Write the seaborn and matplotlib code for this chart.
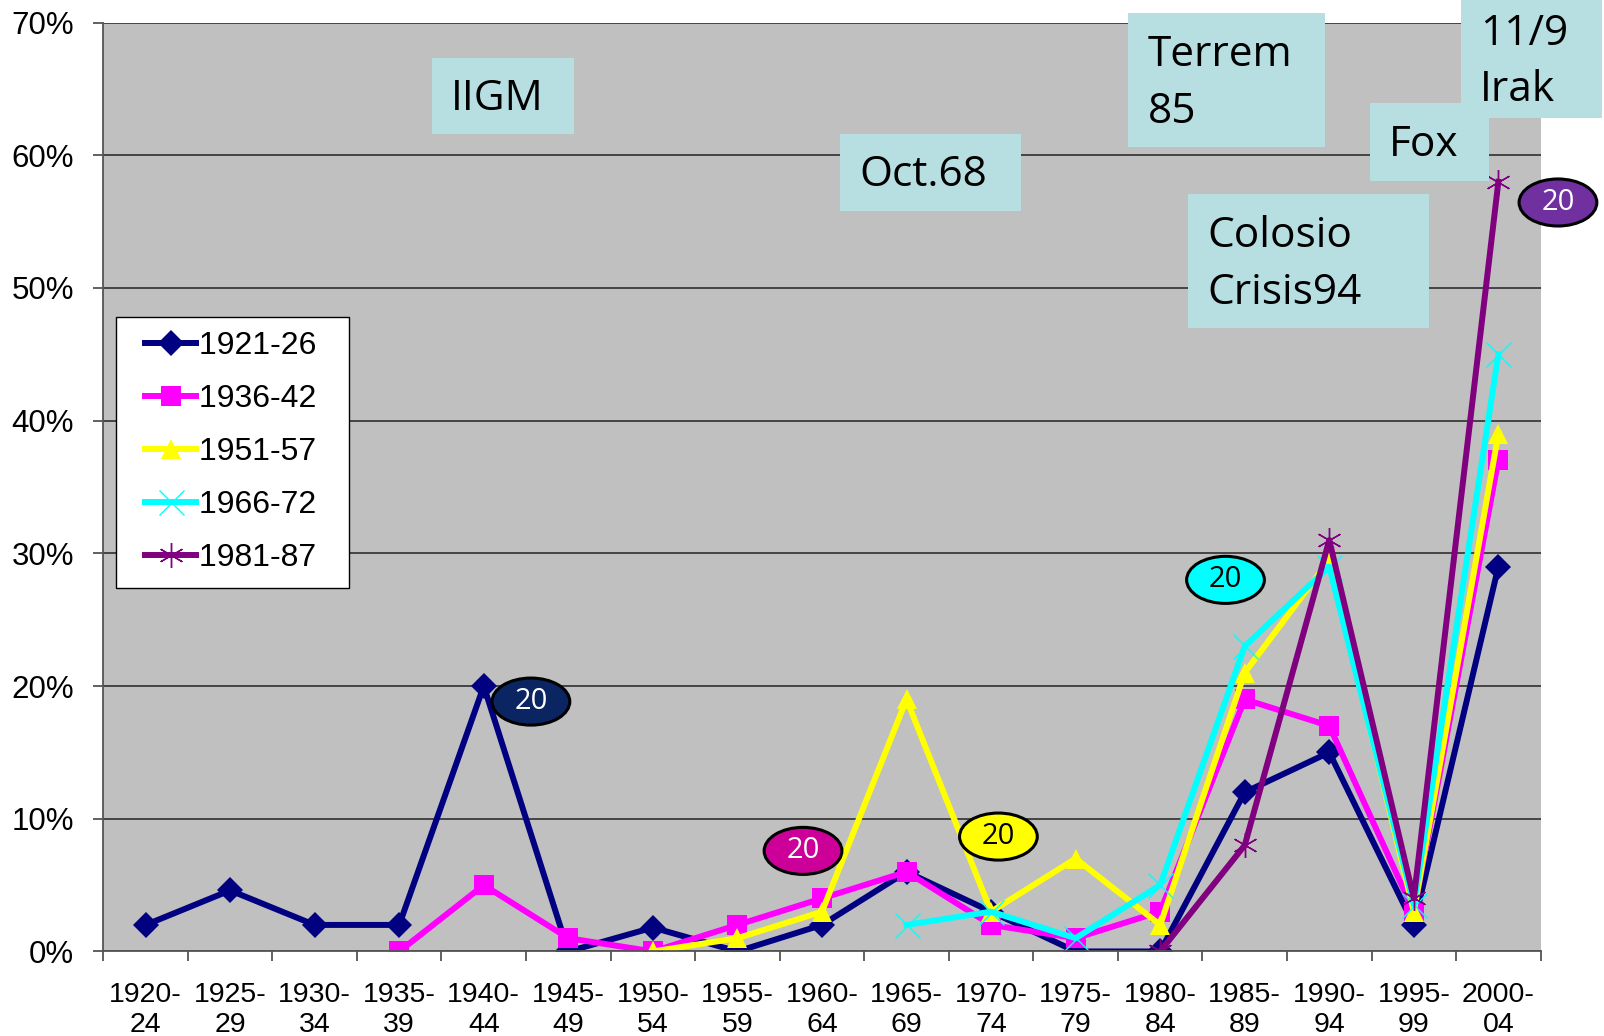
"""
Recreation of the period-share chart (five cohorts, 1920-2004)
"""
import numpy as np
import pandas as pd
import matplotlib
matplotlib.use('Agg')
import matplotlib.pyplot as plt
import seaborn as sns
from matplotlib.lines import Line2D
from matplotlib.legend_handler import HandlerLine2D
from matplotlib.patches import Rectangle, Ellipse
from matplotlib.ticker import PercentFormatter

periods = ['1920-\n24', '1925-\n29', '1930-\n34', '1935-\n39', '1940-\n44', '1945-\n49',
           '1950-\n54', '1955-\n59', '1960-\n64', '1965-\n69', '1970-\n74', '1975-\n79',
           '1980-\n84', '1985-\n89', '1990-\n94', '1995-\n99', '2000-\n04']

cohorts = ['1921-26', '1936-42', '1951-57', '1966-72', '1981-87']
starts = [0, 3, 6, 9, 12]

v_1921 = [0.020, 0.046, 0.020, 0.020, 0.200, 0.000, 0.018, 0.000, 0.020, 0.060,
          0.030, 0.000, 0.000, 0.120, 0.150, 0.020, 0.290]
v_1936 = [0.000, 0.050, 0.010, 0.000, 0.020, 0.040, 0.060, 0.020, 0.010, 0.030,
          0.190, 0.170, 0.030, 0.370]
v_1951 = [0.000, 0.010, 0.030, 0.190, 0.030, 0.070, 0.020, 0.210, 0.295, 0.030, 0.390]
v_1966 = [0.020, 0.030, 0.010, 0.050, 0.230, 0.290, 0.035, 0.450]
v_1981 = [0.000, 0.080, 0.310, 0.040, 0.580]

series = [v_1921, v_1936, v_1951, v_1966, v_1981]
colors = ['#000080', '#FF00FF', '#FFFF00', '#00FFFF', '#800080']
markers = ['D', 's', '^', 'x', (6, 2, 0)]
msizes = [13, 14, 15, 18, 18]

events = [('IIGM', (422, 57, 139, 74)),
          ('Oct.68', (821, 131, 177, 75)),
          ('Terrem\n85', (1103, 13, 192, 131)),
          ('Fox', (1339, 101, 117, 76)),
          ('11/9\nIrak', (1428, 0, 138, 115)),
          ('Colosio\nCrisis94', (1161, 190, 236, 131))]

bubbles = [((519, 686), '#0B2563', 'white'),
           ((785, 832), '#CC0099', 'white'),
           ((976, 818), '#FFFF00', 'black'),
           ((1198, 567), '#00FFFF', 'black'),
           ((1523, 198), '#7030A0', 'white')]

W, H = 1604, 1036
SX, SY = W / 1568, H / 1013


def fig_xy(x, y):
    return x * SX / W, 1 - y * SY / H


rows = []
for name, start, vals in zip(cohorts, starts, series):
    for i, v in enumerate(vals):
        rows.append({'cohort': name, 'pos': start + i, 'share': v})
df = pd.DataFrame(rows)

fig = plt.figure(figsize=(W / 100, H / 100), dpi=100)
ax = fig.add_axes([0.0644, 0.0816, 0.8961, 0.8966])
ax.set_facecolor('#C0C0C0')

for name, col, mk, ms in zip(cohorts, colors, markers, msizes):
    sub = df[df['cohort'] == name]
    thin = mk in ('x',) or isinstance(mk, tuple)
    sns.lineplot(data=sub, x='pos', y='share', ax=ax, color=col, lw=4.3,
                 marker=mk, markersize=ms, markeredgewidth=1.0 if thin else 0,
                 markeredgecolor=col, label=name + '  ')

ax.set_xlim(-0.5, len(periods) - 0.5)
ax.set_ylim(0, 0.7)
ax.set_xticks(np.arange(-0.5, len(periods), 1))
ax.set_xticklabels([])
ax.set_xticks(np.arange(len(periods)), minor=True)
ax.set_xticklabels(periods, minor=True, fontsize=20.5, family='Liberation Sans',
                   linespacing=1.18)
ax.tick_params(axis='x', which='major', length=7.2, width=1.3, color='#555555')
ax.tick_params(axis='x', which='minor', length=0, pad=22)
ax.set_yticks(np.arange(0, 0.71, 0.1))
ax.yaxis.set_major_formatter(PercentFormatter(1.0, decimals=0))
ax.tick_params(axis='y', length=7.2, width=1.3, color='#555555', labelsize=22.5, pad=14)
for lab in ax.get_yticklabels():
    lab.set_family('Liberation Sans')
ax.grid(axis='y', color='#3a3a3a', lw=1.3)
ax.set_axisbelow(True)
ax.set_xlabel('')
ax.set_ylabel('')
for s in ['top', 'right']:
    ax.spines[s].set_visible(False)
for s in ['left', 'bottom']:
    ax.spines[s].set_color('#555555')
    ax.spines[s].set_linewidth(1.3)

leg = ax.legend(loc='upper left', bbox_to_anchor=(0.009, 0.683), borderaxespad=0,
                frameon=True, fancybox=False, edgecolor='black', framealpha=1,
                prop={'family': 'Liberation Sans', 'size': 23},
                handlelength=2.05, handletextpad=0.1, labelspacing=0.72,
                borderpad=0.45, handler_map={Line2D: HandlerLine2D(xpad=0.45)})
leg.get_frame().set_linewidth(1.0)

for label, (x, y, w, h) in events:
    x0, y1 = fig_xy(x, y + h)
    x1, y0 = fig_xy(x + w, y)
    fig.patches.append(Rectangle((x0, y1), x1 - x0, y0 - y1, transform=fig.transFigure,
                                 facecolor='#B7DEE1', edgecolor='none', zorder=3))
    tx, ty = fig_xy(x + 19, y + h / 2 + 3)
    fig.text(tx, ty, label, ha='left', va='center', fontsize=30.5, family='Open Sans',
             linespacing=1.45, zorder=4)

for (cx, cy), fc, tc in bubbles:
    ex, ey = fig_xy(cx, cy)
    fig.patches.append(Ellipse((ex, ey), 76 * SX / W, 46 * SY / H, transform=fig.transFigure,
                               facecolor=fc, edgecolor='black', lw=2.2, zorder=3))
    fig.text(ex, ey, '20', ha='center', va='center', fontsize=21, family='Open Sans',
             color=tc, zorder=4)

fig.savefig('out.png', dpi=100)
